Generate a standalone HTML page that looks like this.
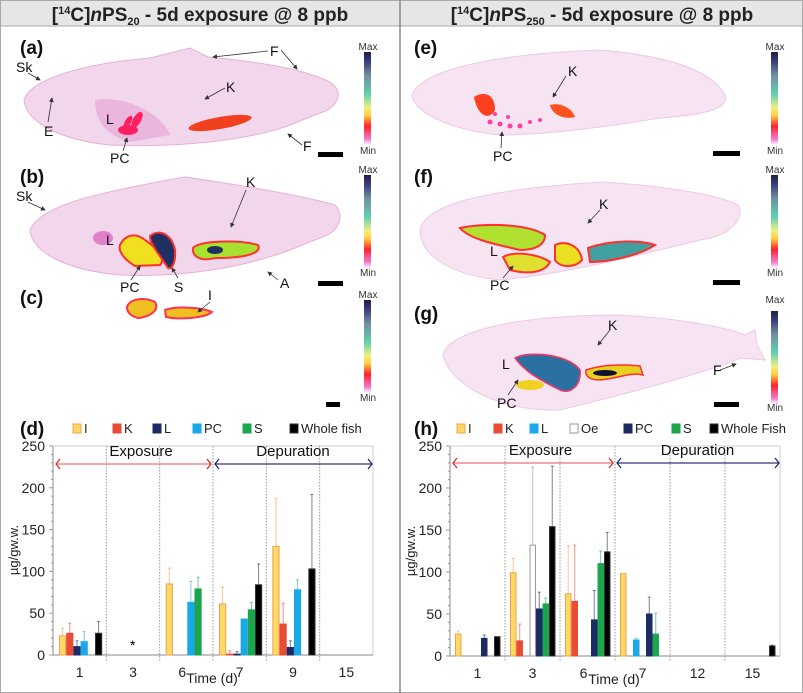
<!DOCTYPE html>
<html><head><meta charset="utf-8"><style>
html,body{margin:0;padding:0;background:#fff}
svg{display:block;font-family:"Liberation Sans","DejaVu Sans",sans-serif}
</style></head><body>
<svg id="s" width="803" height="693" viewBox="0 0 803 693" xmlns="http://www.w3.org/2000/svg">
<defs>
<linearGradient id="cb" x1="0" y1="1" x2="0" y2="0">
<stop offset="0" stop-color="#fff"/><stop offset="0.06" stop-color="#f080d0"/><stop offset="0.2" stop-color="#ff2030"/><stop offset="0.32" stop-color="#ffd040"/><stop offset="0.4" stop-color="#f0f080"/><stop offset="0.55" stop-color="#60d0b0"/><stop offset="0.75" stop-color="#7090a0"/><stop offset="0.9" stop-color="#3a3a80"/><stop offset="1" stop-color="#202040"/>
</linearGradient>
<marker id="ah" markerWidth="6" markerHeight="6" refX="5" refY="3" orient="auto"><path d="M0,0 L6,3 L0,6z" fill="#333"/></marker>
</defs>
<rect x="0.5" y="0.5" width="802" height="692" fill="#fff" stroke="#aaa"/>
<rect x="1" y="1" width="801" height="25" fill="#e6e6e6"/>
<line x1="0" y1="26" x2="803" y2="26" stroke="#aaa"/>
<line x1="400" y1="0" x2="400" y2="693" stroke="#888" stroke-width="1.5"/>
<text x="200" y="21" text-anchor="middle" font-size="19" font-weight="bold" fill="#222">[<tspan font-size="11" dy="-7">14</tspan><tspan dy="7">C]</tspan><tspan font-style="italic">n</tspan>PS<tspan font-size="11" dy="4">20</tspan><tspan dy="-4"> - 5d exposure @ 8 ppb</tspan></text>
<text x="602" y="21" text-anchor="middle" font-size="19" font-weight="bold" fill="#222">[<tspan font-size="11" dy="-7">14</tspan><tspan dy="7">C]</tspan><tspan font-style="italic">n</tspan>PS<tspan font-size="11" dy="4">250</tspan><tspan dy="-4"> - 5d exposure @ 8 ppb</tspan></text>

<g font-size="19" font-weight="bold" fill="#111">
<text x="20" y="54">(a)</text><text x="20" y="183">(b)</text><text x="20" y="304">(c)</text><text x="20" y="435">(d)</text>
<text x="414" y="54">(e)</text><text x="414" y="183">(f)</text><text x="414" y="320">(g)</text><text x="414" y="435">(h)</text>
</g>

<path d="M24,100 C30,80 80,64 150,58 L190,48 L208,57 C260,62 300,68 330,82 C345,92 338,108 320,113 L290,125 C250,140 180,148 110,145 C60,140 26,122 24,100 Z" fill="#f2d6ec" stroke="#e8b0d8"/>
<path d="M95,100 C120,95 160,110 170,135 L130,142 C105,135 95,120 95,100Z" fill="#e8a8d8" opacity="0.7"/>
<ellipse cx="220" cy="123" rx="32" ry="6" transform="rotate(-10 220 123)" fill="#f04020"/>
<g fill="#ff2060"><ellipse cx="128" cy="130" rx="10" ry="5"/><ellipse cx="137" cy="120" rx="4" ry="9" transform="rotate(30 137 120)"/><ellipse cx="128" cy="122" rx="3" ry="7" transform="rotate(30 128 122)"/></g>
<path d="M30,230 C40,205 100,192 185,177 C240,185 300,195 335,205 C345,215 340,232 320,238 L290,250 C250,265 190,278 120,275 C65,270 32,252 30,230 Z" fill="#f2d6ec" stroke="#e8b0d8"/>
<ellipse cx="103" cy="238" rx="10" ry="7" fill="#e080c8"/>
<path d="M120,245 C125,235 135,232 145,240 C160,250 165,260 160,265 L135,266 C125,260 118,252 120,245Z" fill="#f0e020" stroke="#ff3030" stroke-width="2"/>
<path d="M150,236 C160,228 172,235 175,250 C176,262 172,270 168,268 C160,255 150,245 150,236Z" fill="#203060" stroke="#ff3030" stroke-width="2"/>
<path d="M193,248 C200,240 240,240 258,245 C262,252 250,258 215,258 C200,262 192,256 193,248Z" fill="#a8e030" stroke="#ff3030" stroke-width="2"/>
<ellipse cx="215" cy="250" rx="8" ry="4" fill="#203060"/>
<path d="M127,307 C130,298 145,297 155,302 C160,310 150,317 138,318 C130,316 127,312 127,307Z" fill="#f0c020" stroke="#ff3050" stroke-width="2"/>
<path d="M165,310 C175,306 200,307 212,312 C205,318 180,320 166,317Z" fill="#f0c020" stroke="#ff3050" stroke-width="2"/>

<path d="M412,95 C420,75 470,55 600,50 C660,55 710,68 725,95 C730,110 700,115 660,118 C600,128 540,135 500,135 C450,130 413,112 412,95Z" fill="#f7e4f2" stroke="#efc8e6"/>
<path d="M474,97 C485,90 495,95 495,110 C490,120 478,118 474,97Z" fill="#ff4020"/>
<path d="M550,105 C560,102 572,108 575,117 C565,120 552,115 550,105Z" fill="#ff5020"/>
<g fill="#ff40a0"><circle cx="490" cy="122" r="2.5"/><circle cx="500" cy="124" r="2.5"/><circle cx="510" cy="126" r="2.5"/><circle cx="520" cy="126" r="2.5"/><circle cx="495" cy="114" r="2"/><circle cx="508" cy="117" r="2"/><circle cx="530" cy="122" r="2"/><circle cx="540" cy="120" r="2"/></g>
<path d="M420,230 C425,205 480,190 600,182 C660,185 720,195 738,205 C745,215 735,235 700,240 C640,255 560,275 500,280 C450,275 420,255 420,230Z" fill="#f7e4f2" stroke="#efc8e6"/>
<path d="M460,228 C490,222 530,225 545,235 C545,245 535,250 520,250 C500,245 470,240 460,228Z" fill="#b0e030" stroke="#ff3030" stroke-width="2"/>
<path d="M503,257 C515,250 540,255 550,262 C545,272 530,275 510,270Z" fill="#e0e030" stroke="#ff3030" stroke-width="2"/>
<path d="M555,245 C565,240 580,245 582,260 C575,268 560,268 555,260Z" fill="#e8e020" stroke="#ff3030" stroke-width="2"/>
<path d="M588,248 C610,240 640,240 655,245 C640,255 610,262 590,262Z" fill="#40a0a0" stroke="#ff3030" stroke-width="2"/>
<path d="M443,355 C450,330 520,315 620,315 C670,318 720,325 745,335 L755,330 L757,345 L765,360 L740,358 C700,375 620,395 560,410 C500,412 450,385 443,355Z" fill="#f7e4f2" stroke="#efc8e6"/>
<path d="M515,358 C530,350 570,355 580,370 C582,385 570,395 560,390 C540,380 525,372 515,358Z" fill="#2a70a0" stroke="#ff3060" stroke-width="1.5"/>
<path d="M586,370 C600,365 620,364 640,366 L643,375 C630,372 620,378 600,380 C588,380 585,375 586,370Z" fill="#e8d020" stroke="#ff3030" stroke-width="1.5"/>
<ellipse cx="605" cy="373" rx="12" ry="3" fill="#101030"/>
<ellipse cx="530" cy="385" rx="14" ry="5" fill="#f0d020"/>

<g fill="url(#cb)"><rect x="364" y="52" width="7" height="93"/><rect x="364" y="175" width="7" height="93"/><rect x="364" y="300" width="7" height="93"/><rect x="771" y="52" width="7" height="93"/><rect x="771" y="175" width="7" height="93"/><rect x="771" y="311" width="7" height="93"/></g>
<g font-size="10" fill="#333" text-anchor="middle">
<text x="368" y="50">Max</text><text x="368" y="154">Min</text><text x="368" y="173">Max</text><text x="368" y="276">Min</text><text x="368" y="298">Max</text><text x="368" y="401">Min</text>
<text x="775" y="50">Max</text><text x="775" y="154">Min</text><text x="775" y="173">Max</text><text x="775" y="276">Min</text><text x="775" y="303">Max</text><text x="775" y="411">Min</text>
</g>
<g fill="#000"><rect x="318" y="152" width="25" height="5"/><rect x="318" y="281" width="25" height="5"/><rect x="326" y="402" width="14" height="5"/><rect x="713" y="151" width="27" height="5"/><rect x="713" y="280" width="27" height="5"/><rect x="714" y="402" width="25" height="5"/></g>

<g font-size="14" fill="#111">
<text x="16" y="72">Sk</text><text x="44" y="136">E</text><text x="106" y="124">L</text><text x="110" y="163">PC</text><text x="226" y="92">K</text><text x="270" y="56">F</text><text x="303" y="151">F</text>
<text x="16" y="201">Sk</text><text x="106" y="245">L</text><text x="120" y="292">PC</text><text x="174" y="292">S</text><text x="246" y="187">K</text><text x="280" y="288">A</text>
<text x="208" y="300">I</text>
<text x="568" y="76">K</text><text x="493" y="161">PC</text>
<text x="599" y="209">K</text><text x="490" y="256">L</text><text x="490" y="290">PC</text>
<text x="608" y="330">K</text><text x="502" y="369">L</text><text x="497" y="408">PC</text><text x="713" y="375">F</text>
</g>
<g stroke="#333" stroke-width="0.8" fill="none" marker-end="url(#ah)">
<line x1="28" y1="73" x2="40" y2="80"/><line x1="48" y1="122" x2="52" y2="98"/><line x1="123" y1="151" x2="127" y2="138"/><line x1="225" y1="88" x2="205" y2="99"/><line x1="268" y1="51" x2="213" y2="57"/><line x1="281" y1="50" x2="297" y2="69"/><line x1="302" y1="145" x2="288" y2="134"/>
<line x1="28" y1="202" x2="45" y2="210"/><line x1="131" y1="280" x2="140" y2="266"/><line x1="178" y1="278" x2="172" y2="268"/><line x1="246" y1="190" x2="231" y2="227"/><line x1="278" y1="280" x2="268" y2="272"/><line x1="210" y1="302" x2="198" y2="312"/>
<line x1="566" y1="76" x2="553" y2="97"/><line x1="501" y1="148" x2="502" y2="132"/>
<line x1="600" y1="210" x2="588" y2="223"/><line x1="503" y1="278" x2="513" y2="266"/>
<line x1="610" y1="330" x2="598" y2="345"/><line x1="508" y1="395" x2="518" y2="380"/><line x1="720" y1="370" x2="736" y2="364"/>
</g>

<g id="charts"></g>
</svg>
<script>
var NS="http://www.w3.org/2000/svg",g=document.getElementById("charts");
function el(t,a,txt){var e=document.createElementNS(NS,t);for(var k in a)e.setAttribute(k,a[k]);if(txt!=null)e.textContent=txt;g.appendChild(e);return e;}
function chart(o){
 var x0=o.x0,x1=o.x1,y0=o.y0,y250=o.y250,s=(y0-y250)/250,cw=(x1-x0)/6;
 el("line",{x1:x0,y1:y250,x2:x0,y2:y0,stroke:"#888"});
 el("line",{x1:x0,y1:y0,x2:x1,y2:y0,stroke:"#888"});
 el("line",{x1:x0,y1:y250,x2:x1,y2:y250,stroke:"#ccc"});
 el("line",{x1:x1,y1:y250,x2:x1,y2:y0,stroke:"#ccc"});
 for(var v=0;v<=250;v+=10){var y=y0-v*s;el("line",{x1:x0-(v%50?2:4),y1:y,x2:x0,y2:y,stroke:"#999"});}
 for(v=0;v<=250;v+=50)el("text",{x:x0-8,y:y0-v*s+5,"text-anchor":"end","font-size":"14",fill:"#222"},v);
 for(var i=1;i<6;i++)el("line",{x1:x0+i*cw,y1:y250,x2:x0+i*cw,y2:y0+6,stroke:"#999","stroke-dasharray":"1.5,1.5"});
 o.cats.forEach(function(c,i){el("text",{x:x0+cw*(i+0.5)-(i==2?4:0),y:y0+22,"text-anchor":"middle","font-size":"14",fill:"#222"},c);});
 el("text",{x:x0+cw*3-1,y:y0+28,"text-anchor":"middle","font-size":"14",fill:"#222"},"Time (d)");
 el("text",{x:0,y:0,transform:"translate("+(x0-35)+","+(y0-105)+") rotate(-90)","text-anchor":"middle","font-size":"13",fill:"#222"},"µg/gw.w.");
 var ay=o.ay;
 el("line",{x1:x0+3,y1:ay,x2:x0+3*cw-2,y2:ay,stroke:"#f07070","stroke-width":"1.2"});
 el("path",{d:"M"+(x0+7)+","+(ay-5)+" L"+(x0+3)+","+ay+" L"+(x0+7)+","+(ay+5)+" M"+(x0+3*cw-6)+","+(ay-5)+" L"+(x0+3*cw-2)+","+ay+" L"+(x0+3*cw-6)+","+(ay+5),stroke:"#e02020",fill:"none","stroke-width":"1.2"});
 el("line",{x1:x0+3*cw+2,y1:ay,x2:x1-1,y2:ay,stroke:"#303080","stroke-width":"1.2"});
 el("path",{d:"M"+(x0+3*cw+6)+","+(ay-5)+" L"+(x0+3*cw+2)+","+ay+" L"+(x0+3*cw+6)+","+(ay+5)+" M"+(x1-5)+","+(ay-5)+" L"+(x1-1)+","+ay+" L"+(x1-5)+","+(ay+5),stroke:"#202070",fill:"none","stroke-width":"1.2"});
 el("text",{x:x0+1.5*cw+8,y:ay-8,"text-anchor":"middle","font-size":"15",fill:"#111"},"Exposure");
 el("text",{x:x0+4.5*cw,y:ay-8,"text-anchor":"middle","font-size":"15",fill:"#111"},"Depuration");
 var bw=o.bw;
 o.data.forEach(function(d){var ci=d[0],si=d[1],v=d[2],e=d[3];var x=x0+cw*ci+o.off+si*bw,c=o.col[si];
  if(e){el("line",{x1:x+bw/2,y1:y0-v*s,x2:x+bw/2,y2:y0-e*s,stroke:c[1],"stroke-width":"1",opacity:"0.6"});el("line",{x1:x+bw/2-1.5,y1:y0-e*s,x2:x+bw/2+1.5,y2:y0-e*s,stroke:c[1],opacity:"0.6"});}
  el("rect",{x:x+0.5,y:y0-v*s,width:bw-1,height:v*s,fill:c[0],stroke:c[1],"stroke-width":"1"});});
 o.leg.forEach(function(l){el("rect",{x:l[1],y:o.ly-9,width:8,height:9,fill:o.col[l[2]][0],stroke:o.col[l[2]][1]});el("text",{x:l[1]+11,y:o.ly,"font-size":"13",fill:"#222"},l[0]);});
}
var I=["#ffd966","#f0a050"],K=["#ea4b35","#ea4b35"],N=["#1c2a66","#1c2a66"],C=["#1aa8e8","#1aa8e8"],G=["#1ba64e","#1ba64e"],B=["#000","#333"],O=["#fff","#999"];
chart({x0:53,x1:373,y0:655,y250:446,ay:464,bw:7.2,off:6,cats:["1","3","6","7","9","15"],col:[I,K,N,C,G,B],ly:433,
 leg:[["I",73,0],["K",113,1],["L",153,2],["PC",193,3],["S",243,4],["Whole fish",290,5]],
 data:[[0,0,23,32],[0,1,26,38],[0,2,10,17],[0,3,16,28],[0,5,26,40],[2,0,85,104],[2,3,63,88],[2,4,79,93],
 [3,0,61,81],[3,1,1,5],[3,2,1,4],[3,3,43,0],[3,4,54,63],[3,5,84,109],[4,0,130,187],[4,1,37,62],[4,2,9,17],[4,3,78,90],[4,5,103,192]]});
var st=el("text",{x:130,y:650,"font-size":"14"},"*");
chart({x0:450,x1:780,y0:656,y250:446,ay:463,bw:6.5,off:5,cats:["1","3","6","7","12","15"],col:[I,K,C,O,N,G,B],ly:433,
 leg:[["I",457,0],["K",494,1],["L",530,2],["Oe",570,3],["PC",624,4],["S",672,5],["Whole Fish",710,6]],
 data:[[0,0,26,30],[0,4,21,25],[0,6,23,0],[1,0,99,116],[1,1,18,38],[1,3,132,225],[1,4,56,76],[1,5,62,69],[1,6,154,226],
 [2,0,74,131],[2,1,65,132],[2,4,43,78],[2,5,110,125],[2,6,124,147],[3,0,98,0],[3,2,19,21],[3,4,50,70],[3,5,26,51],[5,6,12,13]]});
</script>
</body></html>
